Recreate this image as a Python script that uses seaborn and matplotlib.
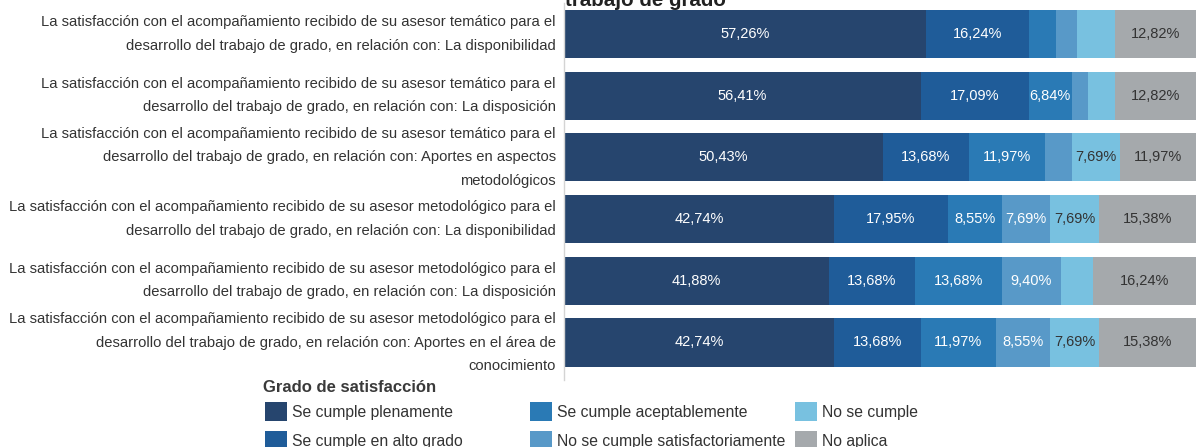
import numpy as np
import pandas as pd
import seaborn as sns
import matplotlib
matplotlib.use("Agg")
import matplotlib.pyplot as plt
from matplotlib.patches import Patch

categories = [
    "La satisfacción con el acompañamiento recibido de su asesor temático para el\ndesarrollo del trabajo de grado, en relación con: La disponibilidad",
    "La satisfacción con el acompañamiento recibido de su asesor temático para el\ndesarrollo del trabajo de grado, en relación con: La disposición",
    "La satisfacción con el acompañamiento recibido de su asesor temático para el\ndesarrollo del trabajo de grado, en relación con: Aportes en aspectos\nmetodológicos",
    "La satisfacción con el acompañamiento recibido de su asesor metodológico para el\ndesarrollo del trabajo de grado, en relación con: La disponibilidad",
    "La satisfacción con el acompañamiento recibido de su asesor metodológico para el\ndesarrollo del trabajo de grado, en relación con: La disposición",
    "La satisfacción con el acompañamiento recibido de su asesor metodológico para el\ndesarrollo del trabajo de grado, en relación con: Aportes en el área de\nconocimiento",
]

series_names = [
    "Se cumple plenamente",
    "Se cumple en alto grado",
    "Se cumple aceptablemente",
    "No se cumple satisfactoriamente",
    "No se cumple",
    "No aplica",
]

plenamente = [57.26, 56.41, 50.43, 42.74, 41.88, 42.74]
alto_grado = [16.24, 17.09, 13.68, 17.95, 13.68, 13.68]
aceptablemente = [4.27, 6.84, 11.97, 8.55, 13.68, 11.97]
no_satisfactoriamente = [3.42, 2.56, 4.27, 7.69, 9.40, 8.55]
no_se_cumple = [5.98, 4.27, 7.69, 7.69, 5.13, 7.69]
no_aplica = [12.82, 12.82, 11.97, 15.38, 16.24, 15.38]

title_text = "trabajo de grado"
legend_title = "Grado de satisfacción"

colors = ["#26456E", "#1F5C99", "#2A7AB5", "#5899C8", "#78C1E0", "#A5A9AC"]
label_colors = ["white", "white", "white", "white", "#333333", "#333333"]

sns.set_theme(style="white")
plt.rcParams["font.family"] = ["Liberation Sans", "DejaVu Sans"]

values = np.array([plenamente, alto_grado, aceptablemente,
                   no_satisfactoriamente, no_se_cumple, no_aplica]).T
cum = np.cumsum(values, axis=1)

W, H = 1198, 447
fig = plt.figure(figsize=(W / 100, H / 100), dpi=100)
row_px = 61.7
top_px = 34 - row_px / 2
bottom_px = 34 + 5 * row_px + 0.6 * row_px
ax = fig.add_axes([564 / W, 1 - bottom_px / H, (1196 - 564) / W, (bottom_px - top_px) / H])

df = pd.DataFrame(cum, columns=series_names)
df["categoria"] = categories

for i in range(len(series_names) - 1, -1, -1):
    sns.barplot(data=df, x=series_names[i], y="categoria", order=categories,
                color=colors[i], saturation=1, width=0.78, errorbar=None,
                orient="h", ax=ax, linewidth=0)

for r in range(len(categories)):
    for i in range(len(series_names)):
        v = values[r, i]
        if v >= 6.5:
            xc = cum[r, i] - v / 2
            ax.text(xc, r, f"{v:.2f}%".replace(".", ","), ha="center", va="center",
                    fontsize=10.5, color=label_colors[i])

ax.set_xlim(0, 100)
ax.set_ylim(5.6, -0.5)
ax.set_xticks([])
ax.set_xlabel("")
ax.set_ylabel("")
for s in ["top", "right", "bottom"]:
    ax.spines[s].set_visible(False)
ax.spines["left"].set_color("#D4D4D4")
ax.spines["left"].set_linewidth(1.0)
ax.tick_params(axis="y", length=0, pad=6, labelsize=10.65, labelcolor="#333333")
for t in ax.get_yticklabels():
    t.set_linespacing(1.85)
    t.set_verticalalignment("center")

fig.text(645 / W, 1 - 6 / H, title_text, ha="center", va="baseline",
         fontsize=14.8, fontweight="bold", color="#222222")

fig.text(263 / W, 1 - 387 / H, legend_title, ha="left", va="center",
         fontsize=12, fontweight="bold", color="#3a3a3a")

handles = [Patch(facecolor=c, edgecolor="none") for c in colors]
col_x = [265, 530, 795]
for k in range(3):
    hs = handles[2 * k:2 * k + 2]
    ls = series_names[2 * k:2 * k + 2]
    leg = fig.legend(hs, ls, loc="upper left",
                     bbox_to_anchor=(col_x[k] / W, 1 - 402 / H),
                     frameon=False, borderpad=0, borderaxespad=0,
                     fontsize=11.3,
                     handlelength=1.4, handleheight=1.5, handletextpad=0.35,
                     labelspacing=0.62)
    for t in leg.get_texts():
        t.set_color("#333333")

fig.savefig("out.png", dpi=100)
